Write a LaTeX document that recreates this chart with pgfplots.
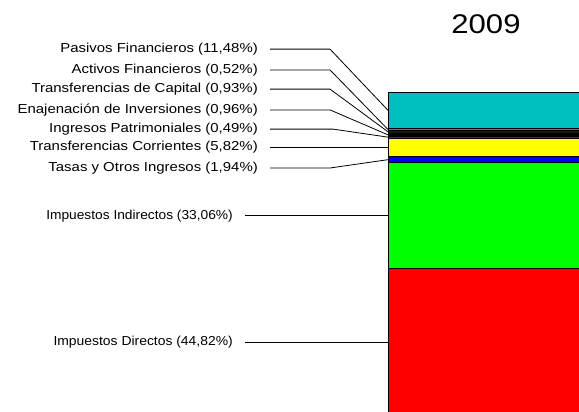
\documentclass[border=0pt]{standalone}
\usepackage{fontspec}
\setmainfont{Liberation Sans}[FakeStretch=1.15]
\usepackage{pgfplots}
\pgfplotsset{compat=1.18}
\definecolor{cPas}{HTML}{00BFBF}
\definecolor{cAct}{HTML}{808000}
\definecolor{cCap}{HTML}{1A1A00}
\definecolor{cEna}{HTML}{000000}
\definecolor{cPat}{HTML}{404000}
\definecolor{cCor}{HTML}{FFFF00}
\definecolor{cTas}{HTML}{0000FF}
\definecolor{cInd}{HTML}{00FF00}
\definecolor{cDir}{HTML}{FF0000}
\tikzset{lbl/.style={anchor=east, font=\fontsize{13}{15}\selectfont, inner sep=0pt}}

\begin{document}
\begin{tikzpicture}
  \begin{axis}[
    name=ax,
    width=579pt, height=412pt,
    scale only axis,
    xmin=0, xmax=579,
    ymin=0, ymax=128.75,
    axis lines=none,
    xtick=\empty, ytick=\empty,
    ybar stacked,
    bar width=230,
    bar shift=0pt,
    every axis plot/.append style={draw=black, line width=0.8pt},
  ]
    % percentages, from bottom to top
    \addplot[fill=cDir] coordinates {(503,44.82)};
    \addplot[fill=cInd] coordinates {(503,33.06)};
    \addplot[fill=cTas] coordinates {(503,1.94)};
    \addplot[fill=cCor] coordinates {(503,5.82)};
    \addplot[fill=cPat] coordinates {(503,0.49)};
    \addplot[fill=cEna] coordinates {(503,0.96)};
    \addplot[fill=cCap] coordinates {(503,0.93)};
    \addplot[fill=cAct] coordinates {(503,0.52)};
    \addplot[fill=cPas] coordinates {(503,11.48)};

    % leader lines
    \draw[black, line width=0.8pt] (axis cs:270,113.4) -- (axis cs:330,113.4) -- (axis cs:388,94.28);
    \draw[black, line width=0.8pt] (axis cs:270,106.9) -- (axis cs:330,106.9) -- (axis cs:388,88.28);
    \draw[black, line width=0.8pt] (axis cs:270,100.9) -- (axis cs:330,100.9) -- (axis cs:388,87.56);
    \draw[black, line width=0.8pt] (axis cs:270,94.4) -- (axis cs:330,94.4) -- (axis cs:388,86.61);
    \draw[black, line width=0.8pt] (axis cs:270,88.4) -- (axis cs:333,88.4) -- (axis cs:388,85.89);
    \draw[black, line width=0.8pt] (axis cs:270,82.73) -- (axis cs:388,82.73);
    \draw[black, line width=0.8pt] (axis cs:270,76.25) -- (axis cs:330,76.25) -- (axis cs:388,78.85);
    \draw[black, line width=0.8pt] (axis cs:245,61.35) -- (axis cs:388,61.35);
    \draw[black, line width=0.8pt] (axis cs:245,21.9) -- (axis cs:388,21.9);

    \node[lbl] at (axis cs:258,113.4) {Pasivos Financieros (11,48\%)};
    \node[lbl] at (axis cs:258,106.9) {Activos Financieros (0,52\%)};
    \node[lbl] at (axis cs:258,100.9) {Transferencias de Capital (0,93\%)};
    \node[lbl] at (axis cs:258,94.4) {Enajenación de Inversiones (0,96\%)};
    \node[lbl] at (axis cs:258,88.4) {Ingresos Patrimoniales (0,49\%)};
    \node[lbl] at (axis cs:258,82.73) {Transferencias Corrientes (5,82\%)};
    \node[lbl] at (axis cs:258,76.25) {Tasas y Otros Ingresos (1,94\%)};
    \node[lbl] at (axis cs:233,61.35) {\scalebox{0.92}[1]{Impuestos Indirectos (33,06\%)}};
    \node[lbl] at (axis cs:233,21.9) {\scalebox{0.93}[1]{Impuestos Directos (44,82\%)}};

    \node[font=\fontsize{27}{30}\selectfont, inner sep=0pt] at (axis cs:486,121.3) {2009};
  \end{axis}
  \pgfresetboundingbox
  \path[use as bounding box] (ax.south west) rectangle (ax.north east);
\end{tikzpicture}
\end{document}
